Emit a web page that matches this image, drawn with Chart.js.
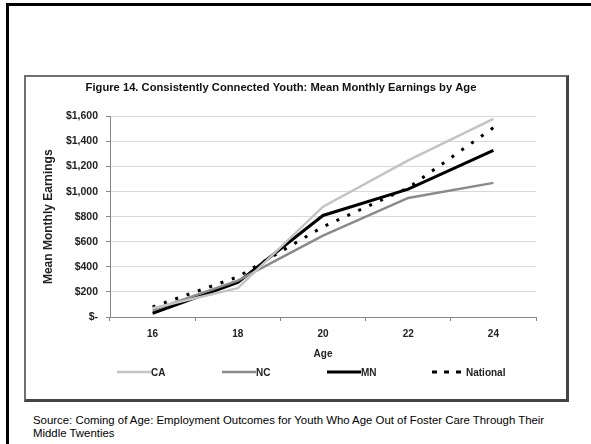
<!DOCTYPE html>
<html>
<head>
<meta charset="utf-8">
<title>Mean Monthly Earnings by Age</title>
<script src="https://cdn.jsdelivr.net/npm/chart.js@4/dist/chart.umd.min.js"></script>
<style>
  body {
    margin: 0;
    width: 591px;
    height: 444px;
    overflow: hidden;
    position: relative;
    background: #fff;
    font-family: "Liberation Sans", Arial, sans-serif;
  }
  #frame {
    position: absolute;
    left: 6px;
    top: 3px;
    width: 600px;
    height: 460px;
    border: 3px solid #000;
  }
  #box {
    position: absolute;
    left: 24px;
    top: 75px;
    width: 540px;
    height: 322px;
    border: 2px solid #707070;
    border-right: 3px solid #444;
    border-bottom: 3px solid #444;
  }
  #box canvas { display: block; }
  #source {
    position: absolute;
    left: 33px;
    top: 414px;
    font-size: 11.4px;
    line-height: 13px;
    color: #000;
  }
</style>
</head>
<body>
<div id="frame"></div>
<div id="box"><canvas id="myChart" width="540" height="322"></canvas></div>
<div id="source">Source: Coming of Age: Employment Outcomes for Youth Who Age Out of Foster Care Through Their<br>Middle Twenties</div>
<script>
// chart values
const ages = ['16', '18', '20', '22', '24'];
const caValues = [70, 230, 880, 1250, 1580];
const ncValues = [55, 290, 650, 950, 1070];
const mnValues = [30, 275, 810, 1020, 1330];
const nationalValues = [80, 320, 720, 1030, 1510];

const fontFamily = '"Liberation Sans", Arial, sans-serif';
const axisColor = '#868686';

// Excel style legend: equal slots, line sample then label
const slotLegend = {
    id: 'slotLegend',
    afterDraw(chart) {
        const ctx = chart.ctx;
        const left = chart.chartArea.left + 7;
        const y = 295;
        ctx.save();
        ctx.font = 'bold 10px ' + fontFamily;
        ctx.textBaseline = 'middle';
        ctx.fillStyle = '#222';
        chart.data.datasets.forEach(function (ds, i) {
            const x = left + i * 105;
            ctx.beginPath();
            ctx.strokeStyle = ds.borderColor;
            ctx.lineWidth = ds.borderWidth;
            ctx.setLineDash(ds.borderDash ? [5, 7] : []);
            ctx.moveTo(x, y);
            ctx.lineTo(x + 34, y);
            ctx.stroke();
            ctx.setLineDash([]);
            ctx.fillText(ds.label, x + 34, y + 1);
        });
        ctx.restore();
    }
};

function initializeChart() {
    const ctx = document.getElementById('myChart').getContext('2d');
    return new Chart(ctx, {
        type: 'line',
        data: {
            labels: ages,
            datasets: [{
                label: 'CA',
                data: caValues,
                borderColor: '#c4c4c4',
                borderWidth: 2.5
            }, {
                label: 'NC',
                data: ncValues,
                borderColor: '#8a8a8a',
                borderWidth: 2.5
            }, {
                label: 'MN',
                data: mnValues,
                borderColor: '#000',
                borderWidth: 3
            }, {
                label: 'National',
                data: nationalValues,
                borderColor: '#000',
                borderWidth: 3,
                borderDash: [3, 9]
            }]
        },
        options: {
            responsive: false,
            animation: false,
            layout: { padding: { left: 0, right: 30, top: 0, bottom: 37 } },
            elements: {
                point: { radius: 0 },
                line: { tension: 0, fill: false }
            },
            plugins: {
                legend: { display: false },
                tooltip: { enabled: false },
                title: {
                    display: true,
                    text: 'Figure 14. Consistently Connected Youth: Mean Monthly Earnings by Age',
                    color: '#111',
                    font: { family: fontFamily, size: 11.2, weight: 'bold' },
                    padding: { top: 4, bottom: 22 }
                }
            },
            scales: {
                x: {
                    offset: true,
                    afterFit: function (scale) { scale.height = 45; },
                    grid: {
                        offset: true,
                        drawOnChartArea: false,
                        tickLength: 4,
                        tickColor: axisColor
                    },
                    border: { color: axisColor, width: 1 },
                    ticks: {
                        color: '#222',
                        padding: 7,
                        font: { family: fontFamily, size: 10, weight: 'bold' }
                    },
                    title: {
                        display: true,
                        text: 'Age',
                        color: '#222',
                        font: { family: fontFamily, size: 10, weight: 'bold' },
                        padding: { top: 8, bottom: 2 }
                    }
                },
                y: {
                    min: 0,
                    max: 1600,
                    afterFit: function (scale) { scale.width = 84; },
                    grid: {
                        color: '#d9d9d9',
                        tickLength: 4,
                        tickColor: axisColor
                    },
                    border: { color: axisColor, width: 1 },
                    ticks: {
                        stepSize: 200,
                        color: '#222',
                        padding: 8,
                        font: { family: fontFamily, size: 10.5, weight: 'bold' },
                        callback: function (v) {
                            return v === 0 ? '$-' : '$' + v.toLocaleString('en-US');
                        }
                    },
                    title: {
                        display: true,
                        text: 'Mean Monthly Earnings',
                        color: '#222',
                        font: { family: fontFamily, size: 12, weight: 'bold' },
                        padding: { top: 15, bottom: 0 }
                    }
                }
            }
        },
        plugins: [slotLegend]
    });
}

let myChart = initializeChart();
</script>
</body>
</html>
